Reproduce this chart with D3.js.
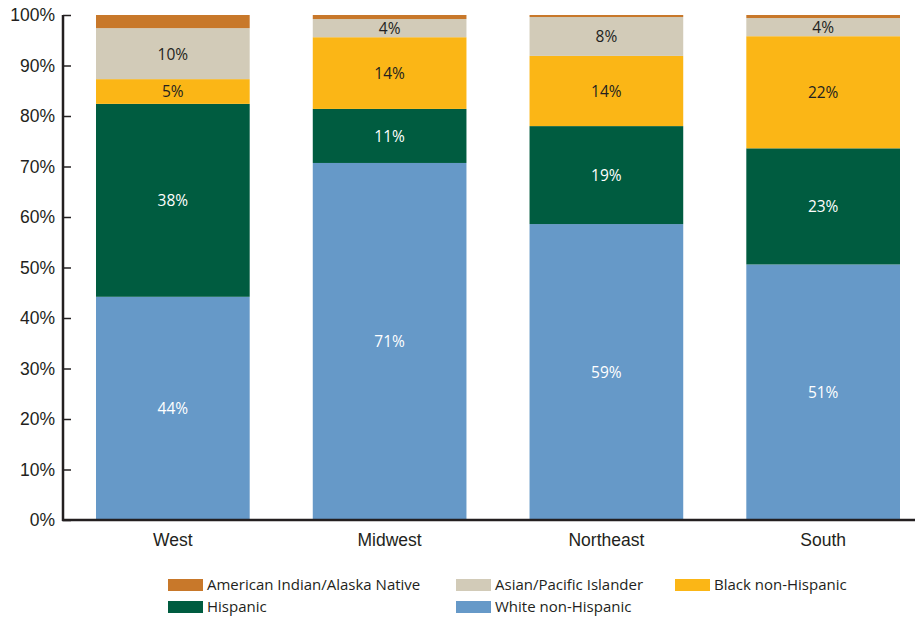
<!DOCTYPE html>
<html><head><meta charset="utf-8">
<script src="https://cdn.jsdelivr.net/npm/d3@7"></script>
<style>body{margin:0;background:#fff}svg{display:block;font-family:"Open Sans","Noto Sans",sans-serif}</style>
</head><body><svg id="c" width="915" height="620"></svg>
<script>
const regions = ["West","Midwest","Northeast","South"];
const seriesNames = ["White non-Hispanic","Hispanic","Black non-Hispanic","Asian/Pacific Islander","American Indian/Alaska Native"];
const white = [44.2, 70.7, 58.6, 50.6];
const hispanic = [38.2, 10.7, 19.4, 23.0];
const black = [4.9, 14.2, 13.9, 22.2];
const asian = [10.1, 3.6, 7.7, 3.6];
const aian = [2.6, 0.8, 0.4, 0.6];
const yTicks = [0,10,20,30,40,50,60,70,80,90,100];
const colors = ["#6699C8","#005C40","#FBB616","#D2CBB8","#C8782A"];
const labelColors = ["#fff","#fff","#231f20","#231f20","#231f20"];
const legendOrder = [4,3,2,1,0];

const seriesVals = [white, hispanic, black, asian, aian];
const rows = regions.map((r,i)=>{const o={region:r}; seriesNames.forEach((s,k)=>o[s]=seriesVals[k][i]); return o;});
const stack = d3.stack().keys(seriesNames)(rows);

const svg = d3.select("#c");
const y = d3.scaleLinear().domain([0,100]).range([520,15]);
const x = d3.scaleBand().domain(regions).range([96,900]).paddingInner(0.291).paddingOuter(0);

// bars
stack.forEach((layer,k)=>{
  svg.append("g").selectAll("rect").data(layer).join("rect")
    .attr("x",d=>x(d.data.region)).attr("width",x.bandwidth())
    .attr("y",d=>y(d[1])).attr("height",d=>y(d[0])-y(d[1]))
    .attr("fill",colors[k]);
  svg.append("g").selectAll("text").data(layer.filter(d=>d[1]-d[0]>=3)).join("text")
    .attr("x",d=>x(d.data.region)+x.bandwidth()/2)
    .attr("y",d=>(y(d[0])+y(d[1]))/2)
    .attr("dy","0.38em").attr("text-anchor","middle")
    .attr("font-size",15.5).attr("fill",labelColors[k])
    .text(d=>Math.round(d[1]-d[0])+"%");
});

// y axis
const ya = svg.append("g").attr("transform","translate(63,0)")
  .call(d3.axisLeft(y).tickValues(yTicks).tickFormat(d=>d+"%").tickSize(-8).tickSizeOuter(0));
ya.select(".domain").remove();
ya.selectAll(".tick line").attr("stroke","#231f20").attr("stroke-width",1.5);
ya.selectAll(".tick text").attr("x",-8).attr("font-size",17.5).attr("fill","#231f20").attr("font-family",null);
svg.append("line").attr("x1",63).attr("x2",63).attr("y1",y(100)).attr("y2",y(0)+1).attr("stroke","#231f20").attr("stroke-width",2.5);

// x axis
const xa = svg.append("g").attr("transform","translate(0,520)")
  .call(d3.axisBottom(x).tickSize(0));
xa.select(".domain").remove();
xa.selectAll(".tick text").attr("y",14).attr("dy","0.71em").attr("font-size",17.5).attr("fill","#231f20").attr("font-family",null);
svg.append("line").attr("x1",62).attr("x2",915).attr("y1",520).attr("y2",520).attr("stroke","#231f20").attr("stroke-width",2.5);

// legend
const legPos = [[168,585],[456,585],[675,585],[168,607],[456,607]];
legendOrder.forEach((k,i)=>{
  const [lx,ly]=legPos[i];
  svg.append("rect").attr("x",lx).attr("y",ly-6).attr("width",35).attr("height",12).attr("fill",colors[k]);
  svg.append("text").attr("x",lx+39).attr("y",ly).attr("dy","0.35em").attr("font-size",15).attr("fill","#231f20").text(seriesNames[k]);
});
</script></body></html>
